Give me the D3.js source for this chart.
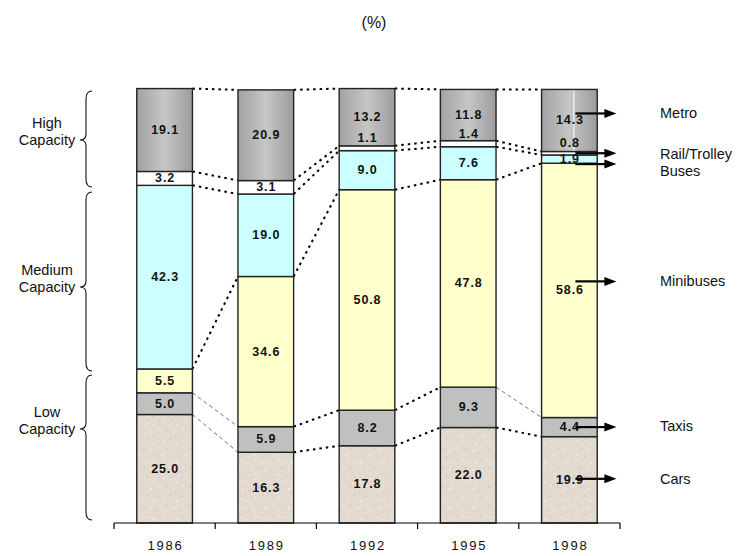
<!DOCTYPE html>
<html>
<head>
<meta charset="utf-8">
<script src="https://cdn.jsdelivr.net/npm/d3@7"></script>
<style>
  html, body { margin: 0; padding: 0; background: #ffffff; }
  svg { display: block; font-family: Arial, "Liberation Sans", sans-serif; }
</style>
</head>
<body>
<svg id="chart" width="748" height="556"></svg>
<script>
// Modal split of trips by year (%), stacked bottom to top
const years = ["1986", "1989", "1992", "1995", "1998"];
const seriesNames = ["Cars", "Taxis", "Minibuses", "Buses", "Rail/Trolley", "Metro"];
const cars       = [25.0, 16.3, 17.8, 22.0, 19.9];
const taxis      = [5.0, 5.9, 8.2, 9.3, 4.4];
const minibuses  = [5.5, 34.6, 50.8, 47.8, 58.6];
const buses      = [42.3, 19.0, 9.0, 7.6, 1.9];
const railTrolley = [3.2, 3.1, 1.1, 1.4, 0.8];
const metro      = [19.1, 20.9, 13.2, 11.8, 14.3];
const groupLabels = [["High", "Capacity"], ["Medium", "Capacity"], ["Low", "Capacity"]];
const title = "(%)";

const seriesValues = [cars, taxis, minibuses, buses, railTrolley, metro];
const table = years.map((y, i) => {
  const row = { year: y };
  seriesNames.forEach((s, k) => { row[s] = seriesValues[k][i]; });
  return row;
});

const svg = d3.select("#chart");
const defs = svg.append("defs");

// Metro: grey cylinder-like shading
const grad = defs.append("linearGradient").attr("id", "metroGrad")
  .attr("x1", "0%").attr("x2", "100%").attr("y1", "0%").attr("y2", "0%");
grad.append("stop").attr("offset", "0%").attr("stop-color", "#a2a2a2");
grad.append("stop").attr("offset", "50%").attr("stop-color", "#c6c6c6");
grad.append("stop").attr("offset", "100%").attr("stop-color", "#9c9c9c");

// Cars: sandy speckled texture
const pat = defs.append("pattern").attr("id", "sand")
  .attr("width", 23).attr("height", 19).attr("patternUnits", "userSpaceOnUse");
pat.append("rect").attr("width", 23).attr("height", 19).attr("fill", "#e2dace");
const specks = [[2,3,"#f1ece4"],[9,1,"#d3c9bb"],[15,6,"#f3efe8"],[20,2,"#d6cdc0"],[5,11,"#d2c8b9"],
  [12,13,"#f2ede6"],[18,15,"#d5ccbe"],[1,17,"#efe9e0"],[7,7,"#ebe5dc"],[21,10,"#ede7de"],[14,17,"#d9d0c3"],[10,4,"#e9e3d9"]];
specks.forEach(([x, y, c]) => pat.append("rect").attr("x", x).attr("y", y)
  .attr("width", 1.6).attr("height", 1.6).attr("fill", c));

const fills = {
  "Cars": "url(#sand)",
  "Taxis": "#c0c0c0",
  "Minibuses": "#ffffcc",
  "Buses": "#ccffff",
  "Rail/Trolley": "#ffffff",
  "Metro": "url(#metroGrad)"
};

const x = d3.scaleBand().domain(years).range([114, 620])
  .paddingInner(0.45).paddingOuter(0.225);
const y = d3.scaleLinear().domain([0, 100]).range([523, 89]);

const stack = d3.stack().keys(seriesNames)(table);

// Dotted connectors between the tops of matching segments
const thinLinks = new Set(["1986|Taxis", "1986|Cars", "1995|Taxis"]);
const links = [];
stack.forEach(layer => {
  for (let i = 0; i < years.length - 1; i++) {
    links.push({
      key: layer.key, from: years[i],
      x1: x(years[i]) + x.bandwidth(), y1: y(layer[i][1]),
      x2: x(years[i + 1]), y2: y(layer[i + 1][1])
    });
  }
});
svg.append("g").selectAll("line").data(links).join("line")
  .attr("x1", d => d.x1).attr("y1", d => d.y1)
  .attr("x2", d => d.x2).attr("y2", d => d.y2)
  .each(function(d) {
    const thin = thinLinks.has(d.from + "|" + d.key);
    d3.select(this)
      .attr("stroke", thin ? "#555" : "#000")
      .attr("stroke-width", thin ? 0.8 : 2)
      .attr("stroke-dasharray", thin ? "4,3" : "2.5,4");
  });

// Stacked bars
const layers = svg.append("g").selectAll("g").data(stack).join("g")
  .attr("fill", d => fills[d.key]);
layers.selectAll("rect").data(d => d).join("rect")
  .attr("x", d => x(d.data.year))
  .attr("y", d => y(d[1]))
  .attr("width", x.bandwidth())
  .attr("height", d => y(d[0]) - y(d[1]))
  .attr("stroke", "#222").attr("stroke-width", 1.4);

// Light highlight streak on the last metro segment
const lastMetro = stack[stack.length - 1][years.length - 1];
svg.append("line")
  .attr("x1", x("1998") + x.bandwidth() * 0.58).attr("x2", x("1998") + x.bandwidth() * 0.58)
  .attr("y1", y(lastMetro[1]) + 1).attr("y2", y(lastMetro[0]) - 1)
  .attr("stroke", "#ffffff").attr("stroke-width", 1);

// Value labels
const valueLabels = [];
stack.forEach(layer => layer.forEach(d => {
  const v = d[1] - d[0];
  let cy = (y(d[0]) + y(d[1])) / 2;
  if (layer.key === "Rail/Trolley" && v < 2) cy -= 10;
  valueLabels.push({ x: x(d.data.year) + x.bandwidth() / 2, y: cy, v: d.data[layer.key] });
}));
svg.append("g").selectAll("text").data(valueLabels).join("text")
  .attr("x", d => d.x + 0.5).attr("y", d => d.y)
  .attr("text-anchor", "middle").attr("dominant-baseline", "central")
  .attr("font-size", 12.5).attr("font-weight", "bold").attr("fill", "#111")
  .attr("letter-spacing", "0.9px")
  .text(d => d3.format(".1f")(d.v));

// Axis
const axis = svg.append("g").attr("transform", "translate(0,523)");
axis.append("line").attr("x1", 114).attr("x2", 620).attr("stroke", "#000").attr("stroke-width", 1.2);
const tickXs = years.map(yr => x(yr) - x.step() * 0.225).concat([620]);
axis.selectAll("line.tick").data(tickXs).join("line").attr("class", "tick")
  .attr("x1", d => d).attr("x2", d => d).attr("y1", 0).attr("y2", 6)
  .attr("stroke", "#000").attr("stroke-width", 1.2);
axis.selectAll("text").data(years).join("text")
  .attr("x", d => x(d) + x.bandwidth() / 2 + 1).attr("y", 27)
  .attr("text-anchor", "middle").attr("font-size", 13)
  .attr("letter-spacing", "1.8px").attr("fill", "#111")
  .text(d => d);

// Series arrows and names beside the last bar
const arrowShift = { "Metro": -7, "Rail/Trolley": 0, "Buses": 5, "Minibuses": -9, "Taxis": 0, "Cars": -1 };
const nameShift = { "Metro": 0, "Rail/Trolley": 1, "Buses": 7, "Minibuses": 0, "Taxis": -1, "Cars": 0 };
const last = years.length - 1;
const arrows = stack.map(layer => {
  const d = layer[last];
  return { key: layer.key, y: (y(d[0]) + y(d[1])) / 2 + arrowShift[layer.key] };
});
const ax0 = x(years[last]) + x.bandwidth() / 2 + 6;
const ag = svg.append("g");
arrows.forEach(a => {
  ag.append("line").attr("x1", ax0).attr("x2", ax0 + 31).attr("y1", a.y).attr("y2", a.y)
    .attr("stroke", "#000").attr("stroke-width", 2.2);
  ag.append("path")
    .attr("d", `M${ax0 + 29},${a.y - 4.5} L${ax0 + 41},${a.y} L${ax0 + 29},${a.y + 4.5} Z`)
    .attr("fill", "#000");
  ag.append("text").attr("x", 660).attr("y", a.y + nameShift[a.key])
    .attr("dominant-baseline", "central").attr("font-size", 14.5).attr("fill", "#111")
    .text(a.key);
});

// Capacity braces on the left
const braces = [
  { y0: 91, y1: 187, tip: 140 },
  { y0: 192, y1: 371, tip: 287 },
  { y0: 375, y1: 520, tip: 429 }
];
const xr = 92, xv = 86, xt = 80;
braces.forEach((b, i) => {
  svg.append("path")
    .attr("d", `M${xr},${b.y0} Q${xv},${b.y0} ${xv},${b.y0 + 8} L${xv},${b.tip - 6} Q${xv},${b.tip} ${xt},${b.tip}` +
               ` Q${xv},${b.tip} ${xv},${b.tip + 6} L${xv},${b.y1 - 8} Q${xv},${b.y1} ${xr},${b.y1}`)
    .attr("fill", "none").attr("stroke", "#111").attr("stroke-width", 1.1);
  const t = svg.append("text").attr("x", 47).attr("y", b.tip - 17)
    .attr("text-anchor", "middle").attr("font-size", 14.5).attr("fill", "#111");
  groupLabels[i].forEach((s, j) => {
    t.append("tspan").attr("x", 47).attr("dy", j === 0 ? 0 : 17)
      .attr("dominant-baseline", "central").text(s);
  });
});

// Title
svg.append("text").attr("x", 374).attr("y", 22)
  .attr("text-anchor", "middle").attr("dominant-baseline", "central")
  .attr("font-size", 16).attr("fill", "#111").text(title);
</script>
</body>
</html>
